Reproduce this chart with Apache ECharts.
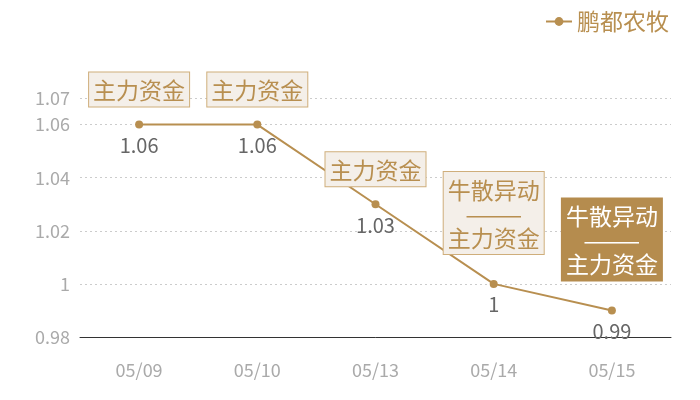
<!DOCTYPE html>
<html><head><meta charset="utf-8">
<script src="https://cdn.jsdelivr.net/npm/echarts@6/dist/echarts.min.js"></script>
<style>html,body{margin:0;padding:0;background:#fff}#c{width:700px;height:400px}</style>
</head><body><div id="c"></div>
<script>
var dates = ['05/09','05/10','05/13','05/14','05/15'];
var values = [1.06, 1.06, 1.03, 1.00, 0.99];
var tags = ['主力资金','主力资金','主力资金','牛散异动\n———\n主力资金','牛散异动\n———\n主力资金'];
var highlighted = [false, false, false, false, true];
var yTicks = {min: 0.98, max: 1.07, interval: 0.02};

var gold = '#b88f50';
var font = '"Noto Sans CJK SC", "Noto Sans", sans-serif';

var tagData = values.map(function(v, i){
  var multi = tags[i].indexOf('\n') >= 0;
  var hl = highlighted[i];
  return {
    value: v,
    label: {
      show: true,
      position: 'top',
      distance: multi ? 26 : 14,
      formatter: tags[i],
      fontFamily: font,
      fontSize: 23,
      lineHeight: 24,
      color: hl ? '#ffffff' : gold,
      backgroundColor: hl ? '#b58c4e' : '#f4efe9',
      borderColor: hl ? '#b58c4e' : '#cfae7b',
      borderWidth: 1,
      padding: [6, 4, 4, 4],
      align: 'center',
      opacity: 1
    }
  };
});

var chart = echarts.init(document.getElementById('c'));
chart.setOption({
  animation: false,
  textStyle: {fontFamily: font},
  legend: {
    data: ['鹏都农牧'],
    right: 26, top: 5,
    itemWidth: 26, itemHeight: 11,
    textStyle: {color: gold, fontSize: 23, fontFamily: font}
  },
  grid: {left: 80, right: 29, top: 98, bottom: 63, containLabel: false},
  xAxis: {
    type: 'category',
    data: dates,
    boundaryGap: true,
    axisLine: {lineStyle: {color: '#333', width: 1}},
    axisTick: {show: false},
    axisLabel: {color: '#aaa', fontSize: 18, margin: 24, fontFamily: font}
  },
  yAxis: {
    type: 'value',
    min: yTicks.min, max: yTicks.max, interval: yTicks.interval,
    axisLine: {show: false},
    axisTick: {show: false},
    axisLabel: {color: '#aaa', fontSize: 18, margin: 10, fontFamily: font},
    splitLine: {lineStyle: {color: '#ccc', type: [2, 3], width: 1}}
  },
  series: [
    {
      name: '鹏都农牧',
      type: 'line',
      data: values,
      symbol: 'circle',
      symbolSize: 8,
      lineStyle: {color: gold, width: 2},
      itemStyle: {color: gold},
      label: {show: true, position: 'bottom', distance: 7, color: '#666', fontSize: 20, fontFamily: font},
      z: 3
    },
    {
      name: 'tags',
      type: 'scatter',
      data: tagData,
      symbol: 'circle',
      symbolSize: 8,
      itemStyle: {color: 'transparent', opacity: 1},
      silent: true,
      z: 4
    }
  ]
});
</script>
</body></html>
